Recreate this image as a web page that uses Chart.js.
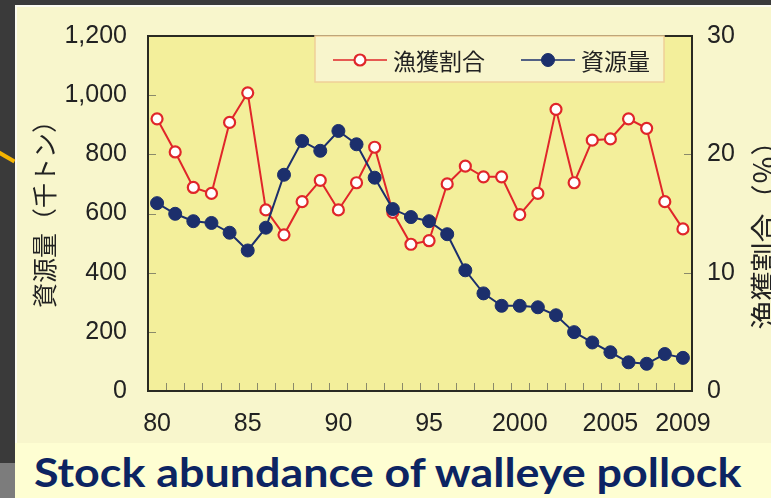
<!DOCTYPE html>
<html lang="ja">
<head>
<meta charset="UTF-8">
<title>Stock abundance of walleye pollock</title>
<script src="https://cdn.jsdelivr.net/npm/chart.js"></script>
<style>
  html, body { margin: 0; padding: 0; }
  body { width: 771px; height: 498px; background: #3a3a3a; position: relative; overflow: hidden; }
  #panel { position: absolute; left: 15px; top: 5px; width: 756px; height: 438px; background: #f8f6cc;
           border-left: 2px solid #fbfbf0; border-top: 2px solid #fbfbf0; box-sizing: border-box; }
  #band { position: absolute; left: 15px; top: 443px; width: 756px; height: 55px; background: #fefed2; }
  #arrow { position: absolute; left: -2px; top: 150px; width: 19px; height: 4px; background: #f5b400;
           transform: rotate(30deg); transform-origin: left center; }
  #corner { position: absolute; left: 0; top: 463px; width: 15px; height: 35px; background: #7c7c7c; }
  #title { position: absolute; left: 34px; top: 452px; font: 700 40px Lato, "Open Sans", sans-serif;
           line-height: 1; color: #0c2462; white-space: nowrap; transform-origin: left top; }
  #chartBox { position: absolute; left: 0; top: 0; width: 771px; height: 443px; }
</style>
</head>
<body>
<div id="panel"></div>
<div id="band"></div>
<div id="arrow"></div>
<div id="corner"></div>
<div id="title">Stock abundance of walleye pollock</div>
<div id="chartBox"><canvas id="pollock" width="771" height="443"></canvas></div>

<script>
// years on the x axis
const years = ['1980','1981','1982','1983','1984','1985','1986','1987','1988','1989',
               '1990','1991','1992','1993','1994','1995','1996','1997','1998','1999',
               '2000','2001','2002','2003','2004','2005','2006','2007','2008','2009'];
// which years get a label, and what it says
const labeledYears = ['1980','1985','1990','1995','2000','2005','2009'];
const labeledText  = ['80','85','90','95','2000','2005','2009'];

// 資源量 (thousand tons, left axis)
const stock = [635, 599, 574, 568, 535, 475, 552, 731, 845, 812,
               879, 834, 721, 615, 588, 574, 530, 408, 330, 288,
               288, 283, 256, 199, 164, 131, 97, 92, 125, 112];
// 漁獲割合 (%, right axis)
const catchRatio = [23.0, 20.2, 17.2, 16.7, 22.7, 25.2, 15.3, 13.2, 16.0, 17.8,
                    15.3, 17.6, 20.6, 15.1, 12.4, 12.7, 17.5, 19.0, 18.1, 18.1,
                    14.9, 16.7, 23.8, 17.6, 21.2, 21.3, 23.0, 22.2, 16.0, 13.7];

const leftTitle = '資源量（千トン）';
const rightTitle = '漁獲割合（％）';

const RED = '#e0262a';
const NAVY = '#1c2f6c';
const TXT = '#222222';
const CJK = '"Noto Sans CJK JP", "Noto Sans", sans-serif';

// plot background, border and inward tick marks
const framePlugin = {
    id: 'frame',
    beforeDatasetsDraw(chart) {
        const { ctx, chartArea: a, scales } = chart;
        ctx.save();
        ctx.fillStyle = '#f3ef9b';
        ctx.fillRect(a.left, a.top, a.right - a.left, a.bottom - a.top);

        ctx.strokeStyle = '#8a8a6a';
        ctx.lineWidth = 1;
        ctx.beginPath();
        // left axis ticks
        scales.y.ticks.forEach(t => {
            const y = Math.round(scales.y.getPixelForValue(t.value)) + 0.5;
            if (t.value > 0 && t.value < 1200) { ctx.moveTo(a.left, y); ctx.lineTo(a.left + 8, y); }
        });
        // right axis ticks
        scales.y1.ticks.forEach(t => {
            const y = Math.round(scales.y1.getPixelForValue(t.value)) + 0.5;
            if (t.value > 0 && t.value < 30) { ctx.moveTo(a.right, y); ctx.lineTo(a.right - 8, y); }
        });
        // bottom ticks between years
        for (let i = 1; i < years.length; i++) {
            const x = Math.round((scales.x.getPixelForValue(i - 1) + scales.x.getPixelForValue(i)) / 2) + 0.5;
            ctx.moveTo(x, a.bottom);
            ctx.lineTo(x, a.bottom - 8);
        }
        ctx.stroke();

        ctx.strokeStyle = '#2a2a22';
        ctx.lineWidth = 2;
        ctx.strokeRect(a.left, a.top, a.right - a.left, a.bottom - a.top);
        ctx.restore();
    },
    afterDraw(chart) {
        const { ctx } = chart;
        // axis titles, both reading bottom to top
        ctx.save();
        ctx.fillStyle = TXT;
        ctx.font = '25px ' + CJK;
        ctx.textAlign = 'center';
        ctx.textBaseline = 'middle';
        ctx.translate(44, 208);
        ctx.rotate(-Math.PI / 2);
        ctx.fillText(leftTitle, 0, 0);
        ctx.restore();

        ctx.save();
        ctx.fillStyle = TXT;
        ctx.font = '29px ' + CJK;
        ctx.textAlign = 'center';
        ctx.textBaseline = 'middle';
        ctx.translate(765, 228);
        ctx.rotate(-Math.PI / 2);
        ctx.fillText(rightTitle, 0, 0);
        ctx.restore();

        // legend box inside the plot
        ctx.save();
        ctx.fillStyle = '#f8f5cc';
        ctx.fillRect(315, 36, 349, 46);
        ctx.strokeStyle = '#f0cf98';
        ctx.lineWidth = 1.5;
        ctx.strokeRect(315, 36, 349, 46);
        const entries = [
            { ds: chart.data.datasets[0], x0: 333, x1: 387, tx: 393 },
            { ds: chart.data.datasets[1], x0: 521, x1: 575, tx: 581 }
        ];
        entries.forEach(e => {
            const cy = 60;
            ctx.strokeStyle = e.ds.borderColor;
            ctx.lineWidth = 1.5;
            ctx.beginPath();
            ctx.moveTo(e.x0, cy); ctx.lineTo(e.x1, cy);
            ctx.stroke();
            ctx.beginPath();
            ctx.arc((e.x0 + e.x1) / 2, cy, e.ds.pointRadius, 0, Math.PI * 2);
            ctx.fillStyle = e.ds.pointBackgroundColor;
            ctx.fill();
            ctx.lineWidth = e.ds.pointBorderWidth;
            ctx.strokeStyle = e.ds.pointBorderColor;
            ctx.stroke();
            ctx.fillStyle = TXT;
            ctx.font = '23px ' + CJK;
            ctx.textAlign = 'left';
            ctx.textBaseline = 'middle';
            ctx.fillText(e.ds.label, e.tx, cy + 1);
        });
        ctx.restore();
    }
};

const tickFont = { family: '"Liberation Sans", Arial, sans-serif', size: 25 };

new Chart(document.getElementById('pollock').getContext('2d'), {
    type: 'line',
    data: {
        labels: years,
        datasets: [{
            label: '漁獲割合',
            data: catchRatio,
            yAxisID: 'y1',
            borderColor: RED,
            borderWidth: 2,
            pointRadius: 5.5,
            pointBorderWidth: 2.2,
            pointBackgroundColor: '#ffffff',
            pointBorderColor: RED,
            tension: 0,
            order: 2
        }, {
            label: '資源量',
            data: stock,
            yAxisID: 'y',
            borderColor: NAVY,
            borderWidth: 2,
            pointRadius: 6.5,
            pointBorderWidth: 1,
            pointBackgroundColor: NAVY,
            pointBorderColor: NAVY,
            tension: 0,
            order: 1
        }]
    },
    options: {
        responsive: false,
        animation: false,
        devicePixelRatio: 1,
        layout: { padding: { top: 30, left: 0, right: 0, bottom: 0 } },
        plugins: {
            legend: { display: false },
            tooltip: { enabled: false }
        },
        scales: {
            x: {
                offset: true,
                grid: { display: false, drawTicks: false },
                border: { display: false },
                ticks: {
                    autoSkip: false,
                    maxRotation: 0,
                    padding: 18,
                    color: TXT,
                    font: tickFont,
                    callback: function(value) {
                        const k = labeledYears.indexOf(this.getLabelForValue(value));
                        return k < 0 ? '' : labeledText[k];
                    }
                },
                afterFit: s => { s.height = 52; }
            },
            y: {
                position: 'left',
                min: 0,
                max: 1200,
                grid: { display: false, drawTicks: false },
                border: { display: false },
                ticks: {
                    stepSize: 200,
                    padding: 21,
                    color: TXT,
                    font: tickFont,
                    callback: v => v.toLocaleString('en-US')
                },
                afterFit: s => { s.width = 148; }
            },
            y1: {
                position: 'right',
                min: 0,
                max: 30,
                grid: { display: false, drawTicks: false },
                border: { display: false },
                ticks: {
                    stepSize: 10,
                    padding: 15,
                    color: TXT,
                    font: tickFont
                },
                afterFit: s => { s.width = 79; }
            }
        }
    },
    plugins: [framePlugin]
});

// squeeze the caption to the width it has in the original
const title = document.getElementById('title');
function fitTitle() {
    title.style.transform = 'none';
    const w = title.offsetWidth;
    title.style.transform = 'scaleX(' + (707 / w) + ')';
}
fitTitle();
if (document.fonts) document.fonts.ready.then(fitTitle);
</script>
</body>
</html>
